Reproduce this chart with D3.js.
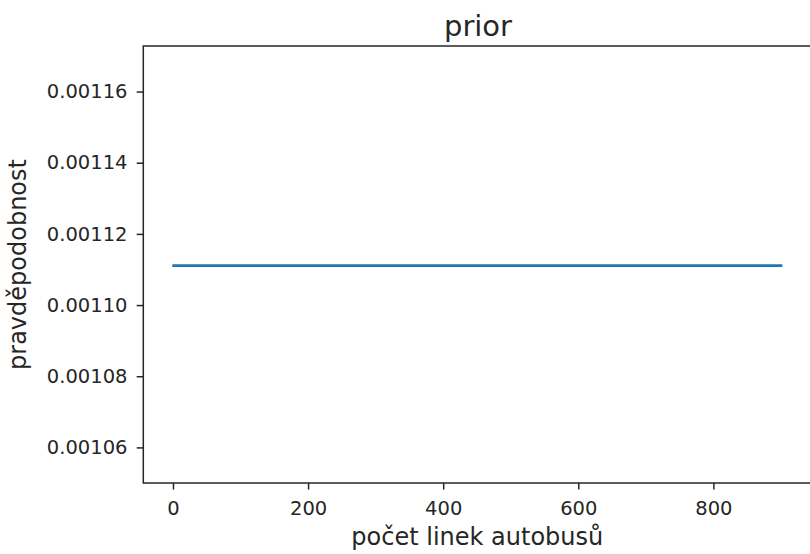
<!DOCTYPE html>
<html>
<head>
<meta charset="utf-8">
<script src="https://cdn.jsdelivr.net/npm/d3@7"></script>
<style>
  body { margin: 0; background: #fff; }
  svg text { font-family: "DejaVu Sans", sans-serif; fill: #262626; }
</style>
</head>
<body>
<div id="wrapper"></div>
<script>
// data: a flat prior over bus line counts
const lineCounts = [1, 900];
const priorValues = [0.00111111, 0.00111111];
const xTicks = [0, 200, 400, 600, 800];
const yTicks = [0.00106, 0.00108, 0.00110, 0.00112, 0.00114, 0.00116];
const titleText = "prior";
const xLabel = "počet linek autobusů";
const yLabel = "pravděpodobnost";

const dimension = {
  width: 810, height: 554,
  left: 143.3, right: 811.3, top: 46, bottom: 483
};

const xScale = d3.scaleLinear().domain([-43.95, 944.95])
  .range([dimension.left, dimension.right]);
const yScale = d3.scaleLinear().domain([0.00105, 0.0011728])
  .range([dimension.bottom, dimension.top]);

const svg = d3.select("#wrapper").append("svg")
  .attr("width", dimension.width).attr("height", dimension.height);

const points = lineCounts.map((x, i) => [x, priorValues[i]]);

// the line
const lineGen = d3.line().x(d => xScale(d[0])).y(d => yScale(d[1]));
svg.append("path").datum(points)
  .attr("d", lineGen)
  .attr("fill", "none").attr("stroke", "#1f77b4")
  .attr("stroke-width", 2.8).attr("stroke-linecap", "square");

// axes
const tickLen = 6.6, fontSize = 19.5, labelSize = 24;
const xAxis = svg.append("g")
  .attr("transform", `translate(0,${dimension.bottom})`)
  .call(d3.axisBottom(xScale).tickValues(xTicks).tickSize(tickLen).tickPadding(11.4).tickFormat(d3.format("d")));
const yAxis = svg.append("g")
  .attr("transform", `translate(${dimension.left},0)`)
  .call(d3.axisLeft(yScale).tickValues(yTicks).tickSize(tickLen).tickPadding(9.2).tickFormat(d3.format(".5f")));

[xAxis, yAxis].forEach(ax => {
  ax.select(".domain").remove();
  ax.selectAll(".tick line").attr("stroke", "#262626").attr("stroke-width", 1.5);
  ax.selectAll(".tick text").attr("font-size", fontSize).attr("fill", "#262626")
    .style("font-family", '"DejaVu Sans", sans-serif');
});

// spines
svg.append("rect")
  .attr("x", dimension.left).attr("y", dimension.top)
  .attr("width", dimension.right - dimension.left)
  .attr("height", dimension.bottom - dimension.top)
  .attr("fill", "none").attr("stroke", "#262626").attr("stroke-width", 1.5);

// labels
svg.append("text")
  .attr("x", 478).attr("y", 36)
  .attr("text-anchor", "middle").attr("font-size", 29)
  .text(titleText);

svg.append("text")
  .attr("x", (dimension.left + dimension.right) / 2).attr("y", 545)
  .attr("text-anchor", "middle").attr("font-size", labelSize)
  .text(xLabel);

svg.append("text")
  .attr("transform", `translate(26,${(dimension.top + dimension.bottom) / 2}) rotate(-90)`)
  .attr("text-anchor", "middle").attr("font-size", labelSize)
  .text(yLabel);
</script>
</body>
</html>
